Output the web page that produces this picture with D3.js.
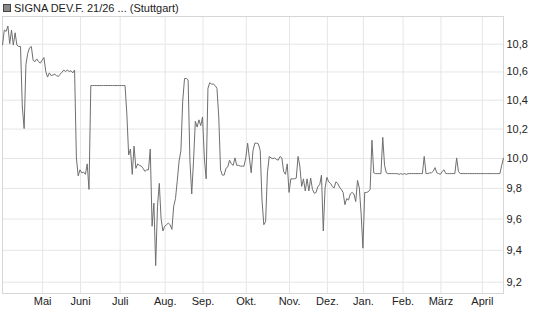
<!DOCTYPE html>
<html>
<head>
<meta charset="utf-8">
<script src="https://cdn.jsdelivr.net/npm/d3@7"></script>
<style>
  body { margin: 0; background: #fff; }
  text { font-family: "Liberation Sans", Arial, sans-serif; }
</style>
</head>
<body>
<script>
'use strict';

// chart title shown in the legend
const title = "SIGNA DEV.F. 21/26 ... (Stuttgart)";

// closing prices, one per trading day
const prices = [
  10.79, 10.90, 10.89, 10.93, 10.80, 10.90, 10.79, 10.88, 10.79, 10.78,
  10.78, 10.35, 10.20, 10.65, 10.73, 10.77, 10.78, 10.68, 10.67, 10.69,
  10.67, 10.66, 10.68, 10.70, 10.60, 10.56, 10.59, 10.57, 10.575, 10.58,
  10.57, 10.565, 10.58, 10.595, 10.61, 10.60, 10.61, 10.60, 10.605, 10.59,
  10.61, 10.00, 9.88, 9.92, 9.90, 9.905, 9.89, 9.96, 9.79, 10.50,
  10.50, 10.50, 10.50, 10.50, 10.50, 10.50, 10.50, 10.50, 10.50, 10.50,
  10.50, 10.50, 10.50, 10.50, 10.50, 10.50, 10.50, 10.50, 10.50, 10.30,
  10.02, 10.06, 9.89, 10.08, 9.93, 9.96, 9.95, 9.945, 9.93, 9.91,
  9.92, 9.92, 10.06, 9.55, 9.70, 9.30, 9.68, 9.83, 9.60, 9.52,
  9.55, 9.56, 9.57, 9.56, 9.53, 9.68, 9.73, 9.85, 9.98, 10.05,
  10.39, 10.55, 10.55, 10.54, 9.98, 9.76, 9.98, 10.25, 10.21, 10.26,
  10.22, 10.28, 10.00, 9.86, 10.48, 10.52, 10.51, 10.51, 10.50, 10.48,
  10.28, 9.92, 9.885, 9.885, 9.93, 9.94, 9.985, 9.96, 9.95, 10.00,
  9.95, 9.95, 9.945, 9.945, 9.945, 10.00, 10.10, 10.00, 9.90, 10.05,
  10.10, 10.10, 10.095, 10.05, 9.72, 9.56, 9.58, 9.90, 10.01, 10.00,
  9.995, 10.00, 9.99, 9.985, 10.01, 10.00, 9.91, 9.89, 9.96, 9.77,
  9.86, 9.86, 9.86, 9.865, 10.01, 9.945, 9.81, 9.86, 9.78, 9.86,
  9.78, 9.865, 9.79, 9.765, 9.77, 9.81, 9.82, 9.885, 9.52, 9.80,
  9.87, 9.84, 9.83, 9.81, 9.80, 9.84, 9.83, 9.805, 9.79, 9.77,
  9.69, 9.73, 9.72, 9.76, 9.77, 9.76, 9.71, 9.85, 9.80, 9.63,
  9.41, 9.77, 9.77, 9.775, 9.79, 10.12, 9.90, 9.895, 9.895, 9.895,
  9.895, 10.14, 9.95, 9.90, 9.895, 9.895, 9.895, 9.895, 9.895, 9.895,
  9.89, 9.895, 9.89, 9.895, 9.89, 9.895, 9.895, 9.895, 9.895, 9.895,
  9.895, 9.895, 9.895, 9.895, 10.01, 9.895, 9.895, 9.90, 9.90, 9.91,
  9.935, 9.90, 9.895, 9.89, 9.91, 9.92, 9.895, 9.895, 9.895, 9.895,
  9.895, 9.895, 10.00, 9.91, 9.895, 9.895, 9.895, 9.895, 9.895, 9.895,
  9.895, 9.895, 9.895, 9.895, 9.895, 9.895, 9.895, 9.895, 9.895, 9.895,
  9.895, 9.895, 9.895, 9.895, 9.895, 9.895, 9.895, 9.95, 10.00
];

// trading day on which each month starts, and its label
const monthDays = [22, 43, 65, 90, 111, 135, 159, 180, 200, 222, 243, 266];
const monthLabels = ["Mai", "Juni", "Juli", "Aug.", "Sep.", "Okt.", "Nov.", "Dez.", "Jan.", "Feb.", "März", "April"];

// price ticks on the right axis
const priceTicks = [9.2, 9.4, 9.6, 9.8, 10.0, 10.2, 10.4, 10.6, 10.8];

(function() {
  const width = 545, height = 327;
  const left = 2.5, right = 503.5, top = 16.5, bottom = 293;

  const svg = d3.select('body').append('svg')
    .attr('width', width)
    .attr('height', height);

  // german decimal comma
  const de = d3.formatLocale({ decimal: ",", thousands: ".", grouping: [3], currency: ["", " €"] });
  const fmt = de.format(".1f");

  const x = d3.scaleLinear()
    .domain([0, prices.length - 1])
    .range([left, right]);

  // price axis is logarithmic
  const y = d3.scaleLog()
    .domain([9.13, 11.0])
    .range([bottom, top]);

  // horizontal gridlines + labels on the right
  const yAxis = d3.axisRight(y)
    .tickValues(priceTicks)
    .tickFormat(fmt)
    .tickSize(-(right - left))
    .tickPadding(3);
  const gy = svg.append('g')
    .attr('transform', `translate(${right},0)`)
    .call(yAxis);
  gy.select('.domain').remove();
  gy.selectAll('line').attr('stroke', '#e6e6e6');
  gy.selectAll('text')
    .attr('fill', '#222')
    .style('font-size', '11px');

  // vertical gridlines + month labels
  const xAxis = d3.axisBottom(x)
    .tickValues(monthDays)
    .tickFormat((d, i) => monthLabels[i])
    .tickSize(-(bottom - top))
    .tickPadding(4);
  const gx = svg.append('g')
    .attr('transform', `translate(0,${bottom})`)
    .call(xAxis);
  gx.select('.domain').remove();
  gx.selectAll('line').attr('stroke', '#e6e6e6');
  gx.selectAll('text')
    .attr('fill', '#222')
    .style('font-size', '11px');

  // plot frame
  svg.append('rect')
    .attr('x', left)
    .attr('y', top)
    .attr('width', right - left)
    .attr('height', bottom - top + 0.5)
    .attr('fill', 'none')
    .attr('stroke', '#d6d6d6');

  // price line
  const line = d3.line()
    .x((d, i) => x(i))
    .y(d => y(d));
  svg.append('path')
    .datum(prices)
    .attr('d', line)
    .attr('fill', 'none')
    .attr('stroke', '#6f6f6f')
    .attr('stroke-width', 1);

  // legend
  svg.append('rect')
    .attr('x', 3.5)
    .attr('y', 4.5)
    .attr('width', 7)
    .attr('height', 7)
    .attr('fill', '#8a8a8a')
    .attr('stroke', '#444');
  svg.append('text')
    .attr('x', 14)
    .attr('y', 12)
    .attr('fill', '#222')
    .style('font-size', '11px')
    .text(title);
})();
</script>
</body>
</html>
